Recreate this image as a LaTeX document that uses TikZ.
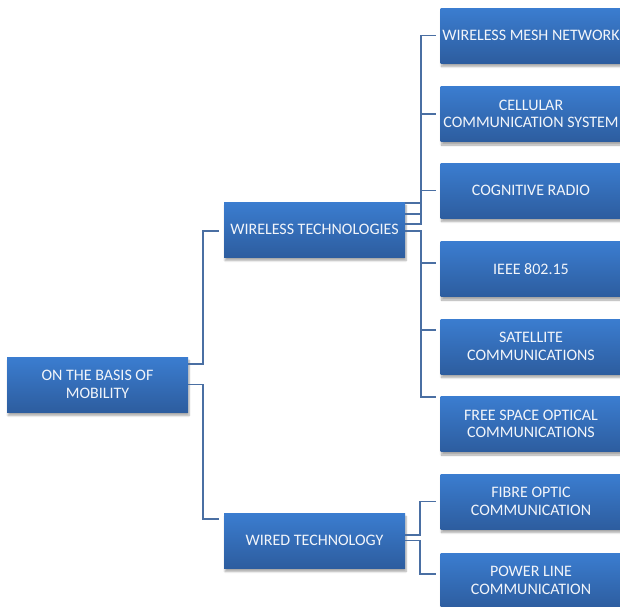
\documentclass[tikz,border=0pt]{standalone}
\usepackage{fontspec}
\setmainfont{Carlito}
\usetikzlibrary{shadows.blur}
\definecolor{boxtop}{HTML}{3B7DD0}
\definecolor{boxbot}{HTML}{2D5D9F}
\definecolor{conncol}{HTML}{4A6FA3}
\definecolor{txtcol}{HTML}{F2F5FA}
\tikzset{
  sbox/.style={rectangle, minimum width=181pt, minimum height=55pt, inner sep=0pt,
    top color=boxtop, bottom color=boxbot, draw=none, align=center,
    text=txtcol, font=\fontsize{16}{17.5}\selectfont,
    blur shadow={shadow xshift=1pt, shadow yshift=-3.5pt, shadow blur steps=6, shadow opacity=35}},
  conn/.style={draw=conncol, line width=1.6pt}
}
\begin{document}
\begin{tikzpicture}[x=1pt,y=-1pt]
\useasboundingbox (0,0) rectangle (620,606);
\clip (0,0) rectangle (620,606);
\node[sbox] (root) at (97.5,384.5) {ON THE BASIS OF\\MOBILITY};
\node[sbox] (wt) at (314.5,229.5) {WIRELESS TECHNOLOGIES};
\node[sbox] (wired) at (314.5,540.5) {WIRED TECHNOLOGY};
\node[sbox] (mesh) at (531,35.5) {WIRELESS MESH NETWORK};
\node[sbox] (cell) at (531,114) {CELLULAR\\COMMUNICATION SYSTEM};
\node[sbox] (cog) at (531,190.5) {COGNITIVE RADIO};
\node[sbox] (ieee) at (531,269) {IEEE 802.15};
\node[sbox] (sat) at (531,346.5) {SATELLITE\\COMMUNICATIONS};
\node[sbox] (fso) at (531,424) {FREE SPACE OPTICAL\\COMMUNICATIONS};
\node[sbox] (fibre) at (531,501.5) {FIBRE OPTIC\\COMMUNICATION};
\node[sbox] (power) at (531,580.5) {POWER LINE\\COMMUNICATION};
\coordinate (b1) at (203,0);
\coordinate (b2) at (421,0);
\coordinate (b3) at (420,0);
% root connectors
\draw[conn] ([yshift=-7pt]root.north east) -| ([yshift=-1.5pt]b1 |- wt.west) -- ([xshift=-5pt,yshift=-1.5pt]wt.west);
\draw[conn] (root.east) -| ([yshift=-6pt]b1 |- wired.north) -- ([xshift=-5pt,yshift=-6pt]wired.north west);
% wireless connectors
\draw[conn] ([yshift=-1pt]wt.north east) -| (b2 |- mesh.west) -- ([xshift=-4pt]mesh.west);
\draw[conn] ([yshift=-12pt]wt.north east) -| (b2 |- cell.west) -- ([xshift=-4pt]cell.west);
\draw[conn] ([yshift=-22pt]wt.north east) -| (b2 |- cog.west) -- ([xshift=-4pt]cog.west);
\draw[conn] ([yshift=-1.5pt]wt.east) -| ([yshift=6pt]b2 |- ieee.west) -- ([xshift=-4pt,yshift=6pt]ieee.west);
\draw[conn] ([yshift=-1.5pt]wt.east) -| ([yshift=16.5pt]b2 |- sat.west) -- ([xshift=-4pt,yshift=16.5pt]sat.west);
\draw[conn] ([yshift=-1.5pt]wt.east) -| ([yshift=27pt]b2 |- fso.west) -- ([xshift=-4pt,yshift=27pt]fso.west);
% wired connectors
\draw[conn] ([yshift=5.5pt]wired.east) -| (b3 |- fibre.west) -- ([xshift=-4pt]fibre.west);
\draw[conn] (wired.east) -| ([yshift=6.5pt]b3 |- power.west) -- ([xshift=-4pt,yshift=6.5pt]power.west);
\end{tikzpicture}
\end{document}
